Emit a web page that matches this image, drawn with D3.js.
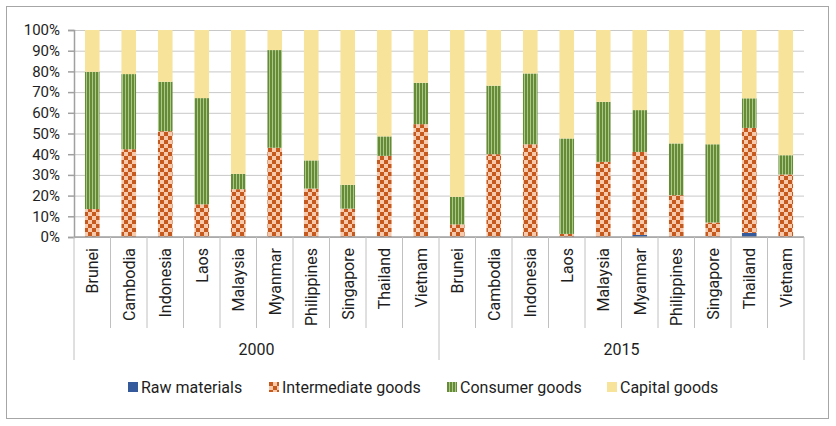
<!DOCTYPE html>
<html>
<head>
<meta charset="utf-8">
<script src="https://cdn.jsdelivr.net/npm/d3@7"></script>
<style>
  body { margin: 0; background: #fff; }
  svg text { font-family: Roboto, "Noto Sans", sans-serif; fill: #1e1e1e; }
</style>
</head>
<body>
<div class="chart"></div>
<script>
// categories
const years = ["2000", "2015"];
const countries = ["Brunei", "Cambodia", "Indonesia", "Laos", "Malaysia",
  "Myanmar", "Philippines", "Singapore", "Thailand", "Vietnam"];
const seriesNames = ["Raw materials", "Intermediate goods", "Consumer goods", "Capital goods"];
const yTicks = [0, 10, 20, 30, 40, 50, 60, 70, 80, 90, 100];

// shares (%) per country, 2000 then 2015
const raw2000 = [0, 0, 0, 0, 0, 0, 0, 0, 0, 0];
const inter2000 = [13.5, 42.4, 51.1, 15.8, 23.1, 43.1, 23.4, 13.7, 39.2, 54.5];
const cons2000 = [66.3, 36.3, 23.9, 51.3, 7.4, 47.2, 13.6, 11.5, 9.4, 20.0];
const cap2000 = [20.2, 21.3, 25.0, 32.9, 69.5, 9.7, 63.0, 74.8, 51.4, 25.5];

const raw2015 = [0, 0, 0, 0, 0, 1.0, 0, 0, 2.0, 0];
const inter2015 = [6.1, 40.0, 44.8, 1.5, 36.3, 40.1, 20.2, 7.0, 50.7, 30.2];
const cons2015 = [13.3, 33.1, 34.2, 46.1, 29.0, 20.2, 25.0, 37.8, 14.3, 9.3];
const cap2015 = [80.6, 26.9, 21.0, 52.4, 34.7, 38.7, 54.8, 55.2, 33.0, 60.5];

const seriesByYear = {
  "2000": [raw2000, inter2000, cons2000, cap2000],
  "2015": [raw2015, inter2015, cons2015, cap2015]
};

// build rows for d3.stack
const rows = [];
years.forEach(yr => {
  countries.forEach((c, i) => {
    const row = { key: yr + "|" + c, year: yr, country: c };
    seriesNames.forEach((s, k) => { row[s] = seriesByYear[yr][k][i]; });
    rows.push(row);
  });
});

const W = 836, H = 426;
const plotL = 74, plotR = 804, plotT = 30, plotB = 237;

const svg = d3.select(".chart").append("svg")
  .attr("width", W).attr("height", H);

// patterns
const defs = svg.append("defs");
const checker = defs.append("pattern").attr("id", "checker")
  .attr("patternUnits", "userSpaceOnUse").attr("width", 8).attr("height", 8);
checker.append("rect").attr("width", 8).attr("height", 8).attr("fill", "#f8c9ab");
checker.append("rect").attr("width", 4).attr("height", 4).attr("fill", "#c65a1e");
checker.append("rect").attr("x", 4).attr("y", 4).attr("width", 4).attr("height", 4).attr("fill", "#c65a1e");

const stripes = defs.append("pattern").attr("id", "stripes")
  .attr("patternUnits", "userSpaceOnUse").attr("width", 3).attr("height", 4);
stripes.append("rect").attr("width", 3).attr("height", 4).attr("fill", "#a8c98a");
stripes.append("rect").attr("width", 2).attr("height", 4).attr("fill", "#668a35");

const fills = {
  "Raw materials": "#345a9c",
  "Intermediate goods": "url(#checker)",
  "Consumer goods": "url(#stripes)",
  "Capital goods": "#f8e39b"
};

// border
svg.append("rect").attr("x", 6.5).attr("y", 6.5).attr("width", 822).attr("height", 412)
  .attr("fill", "none").attr("stroke", "#a6a6a6");

// scales
const x = d3.scaleBand().domain(rows.map(d => d.key)).range([plotL, plotR])
  .paddingInner(0.6).paddingOuter(0.3);
const y = d3.scaleLinear().domain([0, 100]).range([plotB, plotT]);

// gridlines
svg.append("g")
  .attr("transform", `translate(${plotL},0)`)
  .call(d3.axisLeft(y).tickValues(yTicks).tickSize(-(plotR - plotL)).tickFormat(""))
  .call(g => g.select(".domain").remove())
  .call(g => g.selectAll("line").attr("stroke", "#c8c8c8"));

// bars
const stack = d3.stack().keys(seriesNames);
svg.append("g").selectAll("g")
  .data(stack(rows))
  .join("g")
  .attr("fill", d => fills[d.key])
  .selectAll("rect")
  .data(d => d)
  .join("rect")
  .attr("x", d => x(d.data.key))
  .attr("width", x.bandwidth())
  .attr("y", d => y(d[1]))
  .attr("height", d => y(d[0]) - y(d[1]));

// y axis
svg.append("g")
  .attr("transform", `translate(${plotL},0)`)
  .call(d3.axisLeft(y).tickValues(yTicks).tickSize(6).tickPadding(8).tickFormat(d => d + "%"))
  .call(g => g.select(".domain").attr("stroke", "#a0a0a0").attr("stroke-width", 1.5))
  .call(g => g.selectAll("line").attr("stroke", "#a0a0a0").attr("stroke-width", 1.5))
  .call(g => g.selectAll("text").attr("font-size", 15).attr("fill", "#1e1e1e"));

// x axis line
svg.append("line")
  .attr("x1", plotL).attr("x2", plotR).attr("y1", plotB).attr("y2", plotB)
  .attr("stroke", "#a0a0a0").attr("stroke-width", 1.5);

// category separators
const step = x.step();
const sep = svg.append("g").attr("stroke", "#c0c0c0");
d3.range(rows.length + 1).forEach(i => {
  const xx = plotL + i * step;
  const isGroup = i % countries.length === 0;
  sep.append("line")
    .attr("x1", xx).attr("x2", xx)
    .attr("y1", plotB).attr("y2", isGroup ? 360 : 328);
});

// category labels
svg.append("g").selectAll("text")
  .data(rows)
  .join("text")
  .attr("transform", d => `translate(${x(d.key) + x.bandwidth() / 2 + 6},248) rotate(-90)`)
  .attr("text-anchor", "end")
  .attr("font-size", 16)
  .text(d => d.country);

// year labels
svg.append("g").selectAll("text")
  .data(years)
  .join("text")
  .attr("x", (d, i) => plotL + (i + 0.5) * step * countries.length)
  .attr("y", 355)
  .attr("text-anchor", "middle")
  .attr("font-size", 16)
  .text(d => d);

// legend
const legendX = [128, 269, 447, 607];
const legend = svg.append("g").selectAll("g")
  .data(seriesNames)
  .join("g")
  .attr("transform", (d, i) => `translate(${legendX[i]},382)`);
legend.append("rect").attr("width", 10).attr("height", 10).attr("fill", d => fills[d]);
legend.append("text").attr("x", 13).attr("y", 11).attr("font-size", 16).text(d => d);
</script>
</body>
</html>
